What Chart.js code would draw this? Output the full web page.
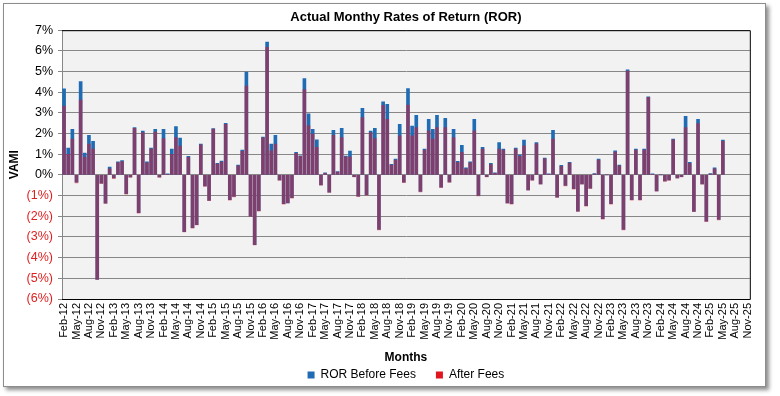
<!DOCTYPE html>
<html>
<head>
<meta charset="utf-8">
<script src="https://cdn.jsdelivr.net/npm/chart.js@4.4.1/dist/chart.umd.min.js"></script>
<style>
  html, body { margin: 0; padding: 0; background: #fff; }
  body { width: 780px; height: 396px; position: relative; overflow: hidden; }
  #frame {
    position: absolute; left: 3px; top: 3px; width: 761px; height: 382px;
    border: 1px solid #8c8c8c; background: #fff;
    box-shadow: 3px 3px 4px rgba(0, 0, 0, 0.45);
  }
  #rorChart { position: absolute; left: 4px; top: 4px; }
</style>
</head>
<body>
<div id="frame"></div>
<canvas id="rorChart" width="761" height="387"></canvas>
<script>
const MONTH_NAMES = ["Jan", "Feb", "Mar", "Apr", "May", "Jun", "Jul", "Aug", "Sep", "Oct", "Nov", "Dec"];
const FIRST_YEAR = 2012;
const FIRST_MONTH = 1; // Feb
const MONTH_COUNT = 166; // Feb-12 .. Nov-25

// monthly rate of return in %, Feb-12 onwards
const rorBeforeFees = [
  4.17, 1.30, 2.21, -0.35, 4.52, 1.06, 1.92, 1.63, -5.05, -0.40,
  -1.36, 0.38, -0.15, 0.63, 0.70, -0.91, -0.10, 2.29, -1.83, 2.12,
  0.63, 1.30, 2.21, -0.10, 2.21, 0.05, 1.25, 2.34, 1.78, -2.74,
  0.90, -2.55, -2.40, 1.49, -0.53, -1.23, 2.24, 0.56, 0.67, 2.50,
  -1.20, -1.04, 0.48, 1.20, 4.97, -1.99, -3.37, -1.73, 1.83, 6.43,
  1.49, 1.92, -0.24, -1.39, -1.35, -1.10, 1.09, 0.93, 4.66, 2.96,
  2.21, 1.70, -0.48, 0.10, -0.83, 2.16, 0.16, 2.26, 0.91, 1.15,
  -0.08, -1.03, 3.22, -0.96, 2.12, 2.26, -2.64, 3.53, 3.41, 0.51,
  0.77, 2.45, -0.35, 4.18, 2.36, 2.88, -0.80, 1.25, 2.69, 2.21,
  2.88, -0.59, 2.74, -0.34, 2.21, 0.66, 1.43, 0.34, 0.63, 2.69,
  -0.99, 1.33, -0.08, 0.56, 0.10, 1.57, 1.25, -1.35, -1.39, 1.30,
  0.96, 1.68, -0.72, -0.24, 1.57, -0.43, 0.82, 0.05, 2.16, -1.07,
  0.46, -0.51, 0.61, -0.67, -1.75, -0.43, -1.49, -0.64, 0.06, 0.77,
  -2.12, 0.00, -1.39, 1.17, 0.48, -2.64, 5.08, -1.20, 1.25, -1.20,
  1.25, 3.78, 0.05, -0.77, 0.00, -0.29, -0.24, 1.73, -0.14, -0.08,
  2.84, 0.61, -1.76, 2.69, -0.43, -2.24, 0.06, 0.34, -2.15, 1.68
];

const rorAfterFees = [
  3.33, 1.00, 1.73, -0.38, 3.62, 0.85, 1.49, 1.25, -5.05, -0.42,
  -1.38, 0.30, -0.18, 0.60, 0.65, -0.93, -0.12, 2.26, -1.85, 2.05,
  0.58, 1.25, 2.07, -0.12, 1.76, 0.03, 1.00, 1.81, 1.40, -2.76,
  0.85, -2.57, -2.42, 1.46, -0.55, -1.25, 2.22, 0.52, 0.62, 2.45,
  -1.22, -1.06, 0.44, 1.14, 4.30, -2.01, -3.39, -1.75, 1.80, 6.17,
  1.17, 1.49, -0.26, -1.41, -1.35, -1.12, 1.05, 0.90, 4.13, 2.37,
  1.97, 1.33, -0.50, 0.08, -0.85, 1.92, 0.14, 1.81, 0.88, 0.88,
  -0.10, -1.05, 2.77, -0.98, 2.05, 1.76, -2.66, 3.37, 2.69, 0.48,
  0.72, 1.89, -0.37, 3.38, 1.89, 2.29, -0.82, 1.20, 2.13, 1.73,
  2.29, -0.61, 2.29, -0.36, 1.81, 0.60, 1.09, 0.30, 0.58, 2.13,
  -1.01, 1.25, -0.10, 0.50, 0.08, 1.25, 1.20, -1.37, -1.41, 1.25,
  0.90, 1.41, -0.74, -0.26, 1.50, -0.45, 0.78, 0.03, 1.73, -1.09,
  0.42, -0.53, 0.57, -0.69, -1.77, -0.45, -1.51, -0.66, 0.04, 0.72,
  -2.14, 0.00, -1.41, 1.10, 0.44, -2.66, 5.02, -1.22, 1.20, -1.22,
  1.20, 3.75, 0.03, -0.79, 0.00, -0.31, -0.26, 1.70, -0.16, -0.10,
  2.29, 0.55, -1.78, 2.48, -0.45, -2.26, 0.04, 0.30, -2.17, 1.62
];

const Y_MIN = -6;
const Y_MAX = 7;

const BLUE = "#1f6cb4";
const RED = "#e2141e";
const RED_OVERLAY = "rgba(220, 20, 40, 0.5)";
const GRID = "#878787";

const monthLabels = [];
for (let k = 0; k < MONTH_COUNT; k++) {
  const m = (FIRST_MONTH + k) % 12;
  const y = FIRST_YEAR + Math.floor((FIRST_MONTH + k) / 12);
  monthLabels.push(`${MONTH_NAMES[m]}-${String(y).slice(2)}`);
}

function formatPercent(v) {
  return v < 0 ? `(${-v}%)` : `${v}%`;
}

const plotFrame = {
  id: "plotFrame",
  beforeDraw(chart) {
    const { ctx, chartArea: a } = chart;
    ctx.save();
    ctx.fillStyle = "#f2f2f2";
    ctx.fillRect(a.left, a.top, a.right - a.left, a.bottom - a.top);
    ctx.restore();
  },
  afterDraw(chart) {
    const { ctx, chartArea: a } = chart;
    ctx.save();
    ctx.strokeStyle = "#000";
    ctx.lineWidth = 1;
    ctx.beginPath();
    ctx.moveTo(a.left, a.top + 0.5);
    ctx.lineTo(a.right + 0.5, a.top + 0.5);
    ctx.lineTo(a.right + 0.5, a.bottom + 0.5);
    ctx.lineTo(a.left, a.bottom + 0.5);
    ctx.stroke();
    ctx.restore();
  },
};

Chart.defaults.font.family = "'Liberation Sans', Arial, sans-serif";
Chart.defaults.color = "#000";

const ctx = document.getElementById("rorChart").getContext("2d");
new Chart(ctx, {
  type: "bar",
  data: {
    labels: monthLabels,
    datasets: [
      {
        label: "ROR Before Fees",
        data: rorBeforeFees,
        backgroundColor: BLUE,
        barThickness: 3,
        grouped: false,
        order: 1,
      },
      {
        label: "After Fees",
        data: rorAfterFees,
        backgroundColor: RED_OVERLAY,
        barThickness: 3,
        grouped: false,
        order: 0,
      },
    ],
  },
  options: {
    responsive: false,
    animation: false,
    devicePixelRatio: 1,
    events: [],
    layout: { padding: { left: 0, right: 4, top: 0, bottom: 0 } },
    scales: {
      x: {
        offset: true,
        grid: { display: false, drawTicks: false },
        border: { color: "#000" },
        ticks: {
          autoSkip: false,
          minRotation: 90,
          maxRotation: 90,
          padding: 4,
          font: { size: 11 },
          callback(value, index) {
            return index % 3 === 0 ? this.getLabelForValue(value) : "";
          },
        },
        title: {
          display: true,
          text: "Months",
          font: { size: 12, weight: "bold" },
          padding: { top: 0, bottom: -16.2 },
        },
        afterFit(scale) {
          scale.height = 50;
        },
      },
      y: {
        min: Y_MIN,
        max: Y_MAX,
        ticks: {
          stepSize: 1,
          padding: 5,
          font: { size: 12.5 },
          color: (c) => (c.tick && c.tick.value < 0 ? "#e02020" : "#000"),
          callback: (v) => formatPercent(v),
        },
        grid: { color: GRID, tickColor: GRID, tickLength: 4 },
        border: { color: GRID },
        title: {
          display: true,
          text: "VAMI",
          font: { size: 12, weight: "bold" },
          padding: { top: 3, bottom: 0 },
        },
        afterFit(scale) {
          scale.width = 58;
        },
      },
    },
    plugins: {
      title: {
        display: true,
        fullSize: false,
        text: "Actual Monthy Rates of Return (ROR)",
        font: { size: 13, weight: "bold" },
        color: "#000",
        padding: { top: 6, bottom: 4.6 },
      },
      legend: {
        position: "bottom",
        fullSize: false,
        labels: {
          boxWidth: 7,
          boxHeight: 7,
          padding: 20,
          font: { size: 12 },
          color: "#000",
          sort: (a, b) => a.datasetIndex - b.datasetIndex,
          generateLabels(chart) {
            const items = Chart.defaults.plugins.legend.labels.generateLabels(chart);
            items.forEach((item) => {
              item.fillStyle = item.datasetIndex === 0 ? BLUE : RED;
              item.lineWidth = 0;
              item.strokeStyle = "transparent";
            });
            return items;
          },
        },
      },
      tooltip: { enabled: false },
    },
  },
  plugins: [plotFrame],
});
</script>
</body>
</html>
